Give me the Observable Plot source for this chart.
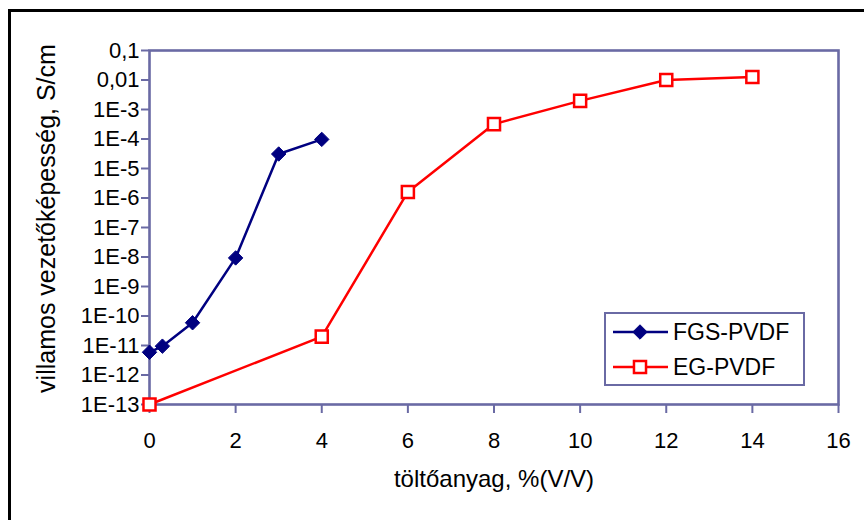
<!DOCTYPE html>
<html>
<head>
<meta charset="utf-8">
<script src="https://cdn.jsdelivr.net/npm/d3@7"></script>
<script src="https://cdn.jsdelivr.net/npm/@observablehq/plot@0.6"></script>
<style>
  html, body { margin: 0; padding: 0; background: #fff; overflow: hidden; }
  #wrap { position: relative; width: 864px; height: 520px; font-family: "Liberation Sans", Arial, sans-serif; }
  #outer { position: absolute; left: 8px; top: 9px; width: 1000px; height: 1000px;
           border-left: 3px solid #000; border-top: 3px solid #000; z-index: 3; pointer-events: none; }
  #legend { position: absolute; left: 0; top: 0; z-index: 2; }
</style>
</head>
<body>
<div id="wrap"><div id="outer"></div></div>
<script>
// ---- data ----
const fgsX = [0, 0.3, 1, 2, 3, 4];
const fgsY = [5.9e-12, 9.5e-12, 5.9e-11, 9.3e-9, 3.1e-5, 9.7e-5];
const egX = [0, 4, 6, 8, 10, 12, 14];
const egY = [1e-13, 2e-11, 1.6e-6, 3.2e-4, 1.96e-3, 0.01, 0.0127];
const xTicks = [0, 2, 4, 6, 8, 10, 12, 14, 16];
const yTicks = [1e-13, 1e-12, 1e-11, 1e-10, 1e-9, 1e-8, 1e-7, 1e-6, 1e-5, 1e-4, 1e-3, 0.01, 0.1];
const seriesNames = ["FGS-PVDF", "EG-PVDF"];
const xTitle = "töltőanyag, %(V/V)";
const yTitle = "villamos vezetőképesség, S/cm";

const fgs = fgsX.map((x, i) => ({x, y: fgsY[i]}));
const eg = egX.map((x, i) => ({x, y: egY[i]}));

const axisColor = "#6a6aa4";
const navy = "#000080";
const red = "#ff0000";

const fmtY = d => d >= 0.01 ? String(d).replace(".", ",") : "1E" + Math.round(Math.log10(d));

const chart = Plot.plot({
  width: 864,
  height: 520,
  marginLeft: 149,
  marginRight: 26,
  marginTop: 50,
  marginBottom: 116,
  style: {fontFamily: "'Liberation Sans', Arial, sans-serif", background: "transparent", color: "#000"},
  x: {domain: [0, 16]},
  y: {type: "log", domain: [1e-13, 0.1]},
  marks: [
    Plot.frame({stroke: axisColor, strokeWidth: 2.6}),
    Plot.axisX({ticks: xTicks, tickSize: 9, tickPadding: 19, stroke: axisColor, strokeWidth: 2,
                fill: "#000", fontSize: 22, label: null}),
    Plot.axisY({ticks: yTicks, tickFormat: fmtY, tickSize: 8, tickPadding: 2, stroke: axisColor, strokeWidth: 2,
                fill: "#000", fontSize: 22, label: null}),
    Plot.text([xTitle], {frameAnchor: "bottom", lineAnchor: "bottom", dy: 82, fontSize: 24, fill: "#000"}),
    Plot.text([yTitle], {frameAnchor: "left", textAnchor: "middle", rotate: -90, lineAnchor: "top",
                         dx: -112, dy: -9, fontSize: 25, fill: "#000"}),
    Plot.line(fgs, {x: "x", y: "y", stroke: navy, strokeWidth: 2.5}),
    Plot.dot(fgs, {x: "x", y: "y", symbol: "diamond2", r: 6.5, fill: navy, stroke: navy, strokeWidth: 1}),
    Plot.line(eg, {x: "x", y: "y", stroke: red, strokeWidth: 2.5}),
    Plot.dot(eg, {x: "x", y: "y", symbol: "square", r: 6.8, fill: "#fff", stroke: red, strokeWidth: 2.5})
  ]
});
document.getElementById("wrap").appendChild(chart);

// ---- legend ----
const lg = d3.select("#wrap").append("svg").attr("id", "legend").attr("width", 864).attr("height", 520);
const box = {x: 605, y: 313, w: 199, h: 72};
lg.append("rect").attr("x", box.x).attr("y", box.y).attr("width", box.w).attr("height", box.h)
  .attr("fill", "#fff").attr("stroke", axisColor).attr("stroke-width", 2);
const items = [
  {name: seriesNames[0], color: navy, sym: d3.symbolDiamond2, r: 6.5, fill: navy, sw: 1},
  {name: seriesNames[1], color: red, sym: d3.symbolSquare, r: 6.8, fill: "#fff", sw: 2.5}
];
items.forEach((it, i) => {
  const cy = 332 + i * 35;
  const g = lg.append("g");
  g.append("line").attr("x1", 613).attr("x2", 668).attr("y1", cy).attr("y2", cy)
    .attr("stroke", it.color).attr("stroke-width", 2.5);
  g.append("path").attr("transform", `translate(640,${cy})`)
    .attr("d", d3.symbol(it.sym, it.r * it.r * Math.PI)())
    .attr("fill", it.fill).attr("stroke", it.color).attr("stroke-width", it.sw);
  g.append("text").attr("x", 673).attr("y", cy + 8).attr("font-size", 23)
    .attr("font-family", "'Liberation Sans', Arial, sans-serif").attr("fill", "#000").text(it.name);
});
</script>
</body>
</html>
